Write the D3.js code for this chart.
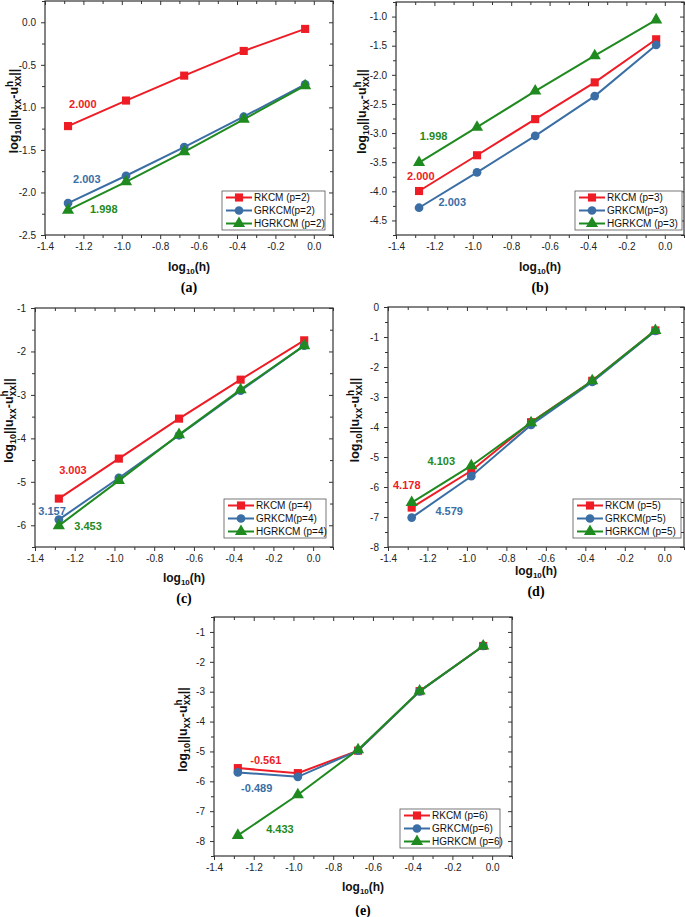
<!DOCTYPE html>
<html>
<head>
<meta charset="utf-8">
<style>
    body { margin: 0; background: #fff; }
    svg { display: block; font-family: 'Liberation Sans', Arial, sans-serif; }
    .tick text { font-size: 10px; fill: #222; }
    .axis-title { font-size: 12px; font-weight: bold; fill: #111; }
    .y-title { font-size: 12.5px; }
    .caption { font-family: 'Liberation Serif', 'Times New Roman', serif; font-size: 14px; font-weight: bold; }
    .rate { font-size: 11px; font-weight: bold; }
    .legend text { font-size: 10px; fill: #111; }
</style>
</head>
<body>
<svg width="685" height="917"></svg>

<script src="https://d3js.org/d3.v7.min.js"></script>
<script>
    // log10(h) for the five meshes
    let logH = [-1.28, -0.978, -0.675, -0.365, -0.045];

    // (a) p=2
    let rkcmP2 = [-1.22, -0.92, -0.627, -0.337, -0.078];
    let grkcmP2 = [-2.125, -1.804, -1.467, -1.11, -0.729];
    let hgrkcmP2 = [-2.208, -1.875, -1.522, -1.141, -0.745];
    // (b) p=3
    let rkcmP3 = [-3.995, -3.381, -2.761, -2.13, -1.39];
    let grkcmP3 = [-4.282, -3.674, -3.048, -2.365, -1.488];
    let hgrkcmP3 = [-3.507, -2.899, -2.279, -1.671, -1.057];
    // (c) p=4
    let rkcmP4 = [-5.386, -4.466, -3.546, -2.649, -1.744];
    let grkcmP4 = [-5.87, -4.911, -3.929, -2.902, -1.867];
    let hgrkcmP4 = [-6.008, -4.972, -3.914, -2.879, -1.867];
    // (d) p=5
    let rkcmP5 = [-6.685, -5.46, -3.84, -2.46, -0.78];
    let grkcmP5 = [-7.02, -5.64, -3.93, -2.5, -0.8];
    let hgrkcmP5 = [-6.52, -5.29, -3.855, -2.46, -0.78];
    // (e) p=6
    let rkcmP6 = [-5.558, -5.726, -4.975, -2.982, -1.47];
    let grkcmP6 = [-5.703, -5.849, -4.975, -2.99, -1.47];
    let hgrkcmP6 = [-7.81, -6.45, -4.94, -2.98, -1.47];

    let legendA = ["RKCM (p=2)", "GRKCM(p=2)", "HGRKCM (p=2)"];
    let legendB = ["RKCM (p=3)", "GRKCM(p=3)", "HGRKCM (p=3)"];
    let legendC = ["RKCM (p=4)", "GRKCM(p=4)", "HGRKCM (p=4)"];
    let legendD = ["RKCM (p=5)", "GRKCM(p=5)", "HGRKCM (p=5)"];
    let legendE = ["RKCM (p=6)", "GRKCM(p=6)", "HGRKCM (p=6)"];

    // convergence rate labels: text, series index, position in data units
    let ratesA = [["2.000", 0, -1.203, -0.961], ["2.003", 1, -1.182, -1.844], ["1.998", 2, -1.094, -2.196]];
    let ratesB = [["1.998", 2, -1.204, -3.053], ["2.000", 0, -1.271, -3.742], ["2.003", 1, -1.107, -4.19]];
    let ratesC = [["3.003", 0, -1.209, -4.72], ["3.157", 1, -1.314, -5.686], ["3.453", 2, -1.133, -6.03]];
    let ratesD = [["4.103", 2, -1.13, -5.14], ["4.178", 0, -1.305, -5.94], ["4.579", 1, -1.09, -6.81]];
    let ratesE = [["-0.561", 0, -1.139, -5.28], ["-0.489", 1, -1.185, -6.22], ["4.433", 2, -1.068, -7.6]];

    let xTicks = [-1.4, -1.2, -1.0, -0.8, -0.6, -0.4, -0.2, 0.0];

    let colors = ["#ee1c25", "#3a6ea5", "#1f8a1f"];
    let shapes = [d3.symbolSquare, d3.symbolCircle, d3.symbolTriangle];
    let shapeSize = [66, 60, 64];

    let panels = [
        {series: [rkcmP2, grkcmP2, hgrkcmP2], names: legendA, rates: ratesA, cap: "(a)",
         box: [45, 1, 333, 235], yDom: [-2.5, 0.25], yStep: 0.5, yDec: 1,
         legend: [222, 191, 103], titleX: 14, xTitleY: 271, capY: 292},
        {series: [rkcmP3, grkcmP3, hgrkcmP3], names: legendB, rates: ratesB, cap: "(b)",
         box: [396, 2, 684, 235], yDom: [-4.75, -0.75], yStep: 0.5, yDec: 1,
         legend: [575, 191, 107], titleX: 362, xTitleY: 271, capY: 292},
        {series: [rkcmP4, grkcmP4, hgrkcmP4], names: legendC, rates: ratesC, cap: "(c)",
         box: [35, 308, 333, 547], yDom: [-6.5, -1], yStep: 1, yDec: 0,
         legend: [224, 499, 102], titleX: 9, xTitleY: 582, capY: 603},
        {series: [rkcmP5, grkcmP5, hgrkcmP5], names: legendD, rates: ratesD, cap: "(d)",
         box: [388, 307, 684, 547], yDom: [-8, 0], yStep: 1, yDec: 0,
         legend: [573, 499, 108], titleX: 355, xTitleY: 575, capY: 596},
        {series: [rkcmP6, grkcmP6, hgrkcmP6], names: legendE, rates: ratesE, cap: "(e)",
         box: [214, 617, 512, 856], yDom: [-8.5, -0.5], yStep: 1, yDec: 0,
         legend: [400, 809, 100], titleX: 183, xTitleY: 891, capY: 915}
    ];

    let svg = d3.select("svg");

    function fmt(dec) {
        return v => (Math.abs(v) < 1e-9 ? 0 : v).toFixed(dec);
    }

    function range(a, b, step) {
        let out = [];
        for (let v = a; v <= b + 1e-9; v += step) out.push(+v.toFixed(4));
        return out;
    }

    panels.forEach(function(p) {
        let [x0, y0, x1, y1] = p.box;
        let x = d3.scaleLinear().domain([-1.4, 0.1]).range([x0, x1]);
        let y = d3.scaleLinear().domain(p.yDom).range([y1, y0]);
        let g = svg.append("g");

        let yMajor = range(Math.ceil(p.yDom[0] / p.yStep) * p.yStep, p.yDom[1], p.yStep);
        let yMinor = range(p.yDom[0], p.yDom[1], p.yStep / 2).filter(v => !yMajor.some(m => Math.abs(m - v) < 1e-6));
        let xMinor = range(-1.3, 0.1, 0.2);

        // outward ticks with labels
        g.append("g").attr("transform", `translate(0,${y1})`)
            .call(d3.axisBottom(x).tickValues(xTicks).tickFormat(fmt(1)).tickSize(4).tickPadding(4).tickSizeOuter(0));
        g.append("g").attr("transform", `translate(0,${y1})`)
            .call(d3.axisBottom(x).tickValues(xMinor).tickFormat("").tickSize(3).tickSizeOuter(0));
        g.append("g").attr("transform", `translate(${x0},0)`)
            .call(d3.axisLeft(y).tickValues(yMajor).tickFormat(fmt(p.yDec)).tickSize(4).tickPadding(5).tickSizeOuter(0));
        g.append("g").attr("transform", `translate(${x0},0)`)
            .call(d3.axisLeft(y).tickValues(yMinor).tickFormat("").tickSize(3).tickSizeOuter(0));
        // inward mirror ticks
        g.append("g").attr("transform", `translate(0,${y0})`)
            .call(d3.axisTop(x).tickValues(xTicks).tickFormat("").tickSize(-4).tickSizeOuter(0));
        g.append("g").attr("transform", `translate(0,${y0})`)
            .call(d3.axisTop(x).tickValues(xMinor).tickFormat("").tickSize(-3).tickSizeOuter(0));
        g.append("g").attr("transform", `translate(${x1},0)`)
            .call(d3.axisRight(y).tickValues(yMajor).tickFormat("").tickSize(-4).tickSizeOuter(0));
        g.append("g").attr("transform", `translate(${x1},0)`)
            .call(d3.axisRight(y).tickValues(yMinor).tickFormat("").tickSize(-3).tickSizeOuter(0));

        g.selectAll(".domain").remove();
        g.selectAll(".tick line").attr("stroke", "#333");

        g.append("rect")
            .attr("x", x0).attr("y", y0)
            .attr("width", x1 - x0).attr("height", y1 - y0)
            .attr("fill", "none").attr("stroke", "#333").attr("stroke-width", 1.2);

        let line = d3.line().x((d, i) => x(logH[i])).y(d => y(d));

        p.series.forEach(function(s, k) {
            g.append("path")
                .attr("d", line(s))
                .attr("fill", "none")
                .attr("stroke", colors[k])
                .attr("stroke-width", 2);
            g.selectAll(".m" + k)
                .data(s)
                .join("path")
                .attr("transform", (d, i) => `translate(${x(logH[i])},${y(d)})`)
                .attr("d", d3.symbol().type(shapes[k]).size(shapeSize[k]))
                .attr("fill", colors[k]);
        });

        g.selectAll(".rate")
            .data(p.rates)
            .join("text")
            .attr("class", "rate")
            .attr("x", d => x(d[2]))
            .attr("y", d => y(d[3]))
            .attr("text-anchor", "middle")
            .attr("dy", "0.35em")
            .attr("fill", d => colors[d[1]])
            .text(d => d[0]);

        // legend
        let [lx, ly, lw] = p.legend;
        let lg = g.append("g").attr("class", "legend");
        lg.append("rect")
            .attr("x", lx).attr("y", ly).attr("width", lw).attr("height", 39)
            .attr("fill", "#fff").attr("stroke", "#555").attr("stroke-width", 0.8);
        p.names.forEach(function(name, k) {
            let cy = ly + 6.5 + k * 13;
            lg.append("line")
                .attr("x1", lx + 4).attr("x2", lx + 30)
                .attr("y1", cy).attr("y2", cy)
                .attr("stroke", colors[k]).attr("stroke-width", 2);
            lg.append("path")
                .attr("transform", `translate(${lx + 17},${cy})`)
                .attr("d", d3.symbol().type(shapes[k]).size(shapeSize[k]))
                .attr("fill", colors[k]);
            lg.append("text")
                .attr("x", lx + 32).attr("y", cy).attr("dy", "0.35em")
                .text(name);
        });

        // x title
        let xt = g.append("text").attr("class", "axis-title")
            .attr("x", (x0 + x1) / 2).attr("y", p.xTitleY).attr("text-anchor", "middle");
        xt.append("tspan").text("log");
        xt.append("tspan").attr("font-size", "8px").attr("dy", 3).text("10");
        xt.append("tspan").attr("dy", -3).text("(h)");

        // y title
        let yt = g.append("text").attr("class", "axis-title y-title")
            .attr("transform", `translate(${p.titleX},${(y0 + y1) / 2 - 7}) rotate(-90)`)
            .attr("text-anchor", "middle").attr("dy", "0.35em");
        yt.append("tspan").text("log");
        yt.append("tspan").attr("font-size", "9px").attr("dy", 3).text("10");
        yt.append("tspan").attr("dy", -3).text("||u");
        yt.append("tspan").attr("font-size", "10px").attr("dy", 3).text("xx");
        yt.append("tspan").attr("dy", -3).text("-u");
        yt.append("tspan").attr("font-size", "10px").attr("dy", -5).text("h");
        yt.append("tspan").attr("font-size", "10px").attr("dx", -6).attr("dy", 8).text("xx");
        yt.append("tspan").attr("dy", -3).text("||");

        svg.append("text").attr("class", "caption")
            .attr("x", (x0 + x1) / 2).attr("y", p.capY)
            .attr("text-anchor", "middle").text(p.cap);
    });
</script>
</body>
</html>
